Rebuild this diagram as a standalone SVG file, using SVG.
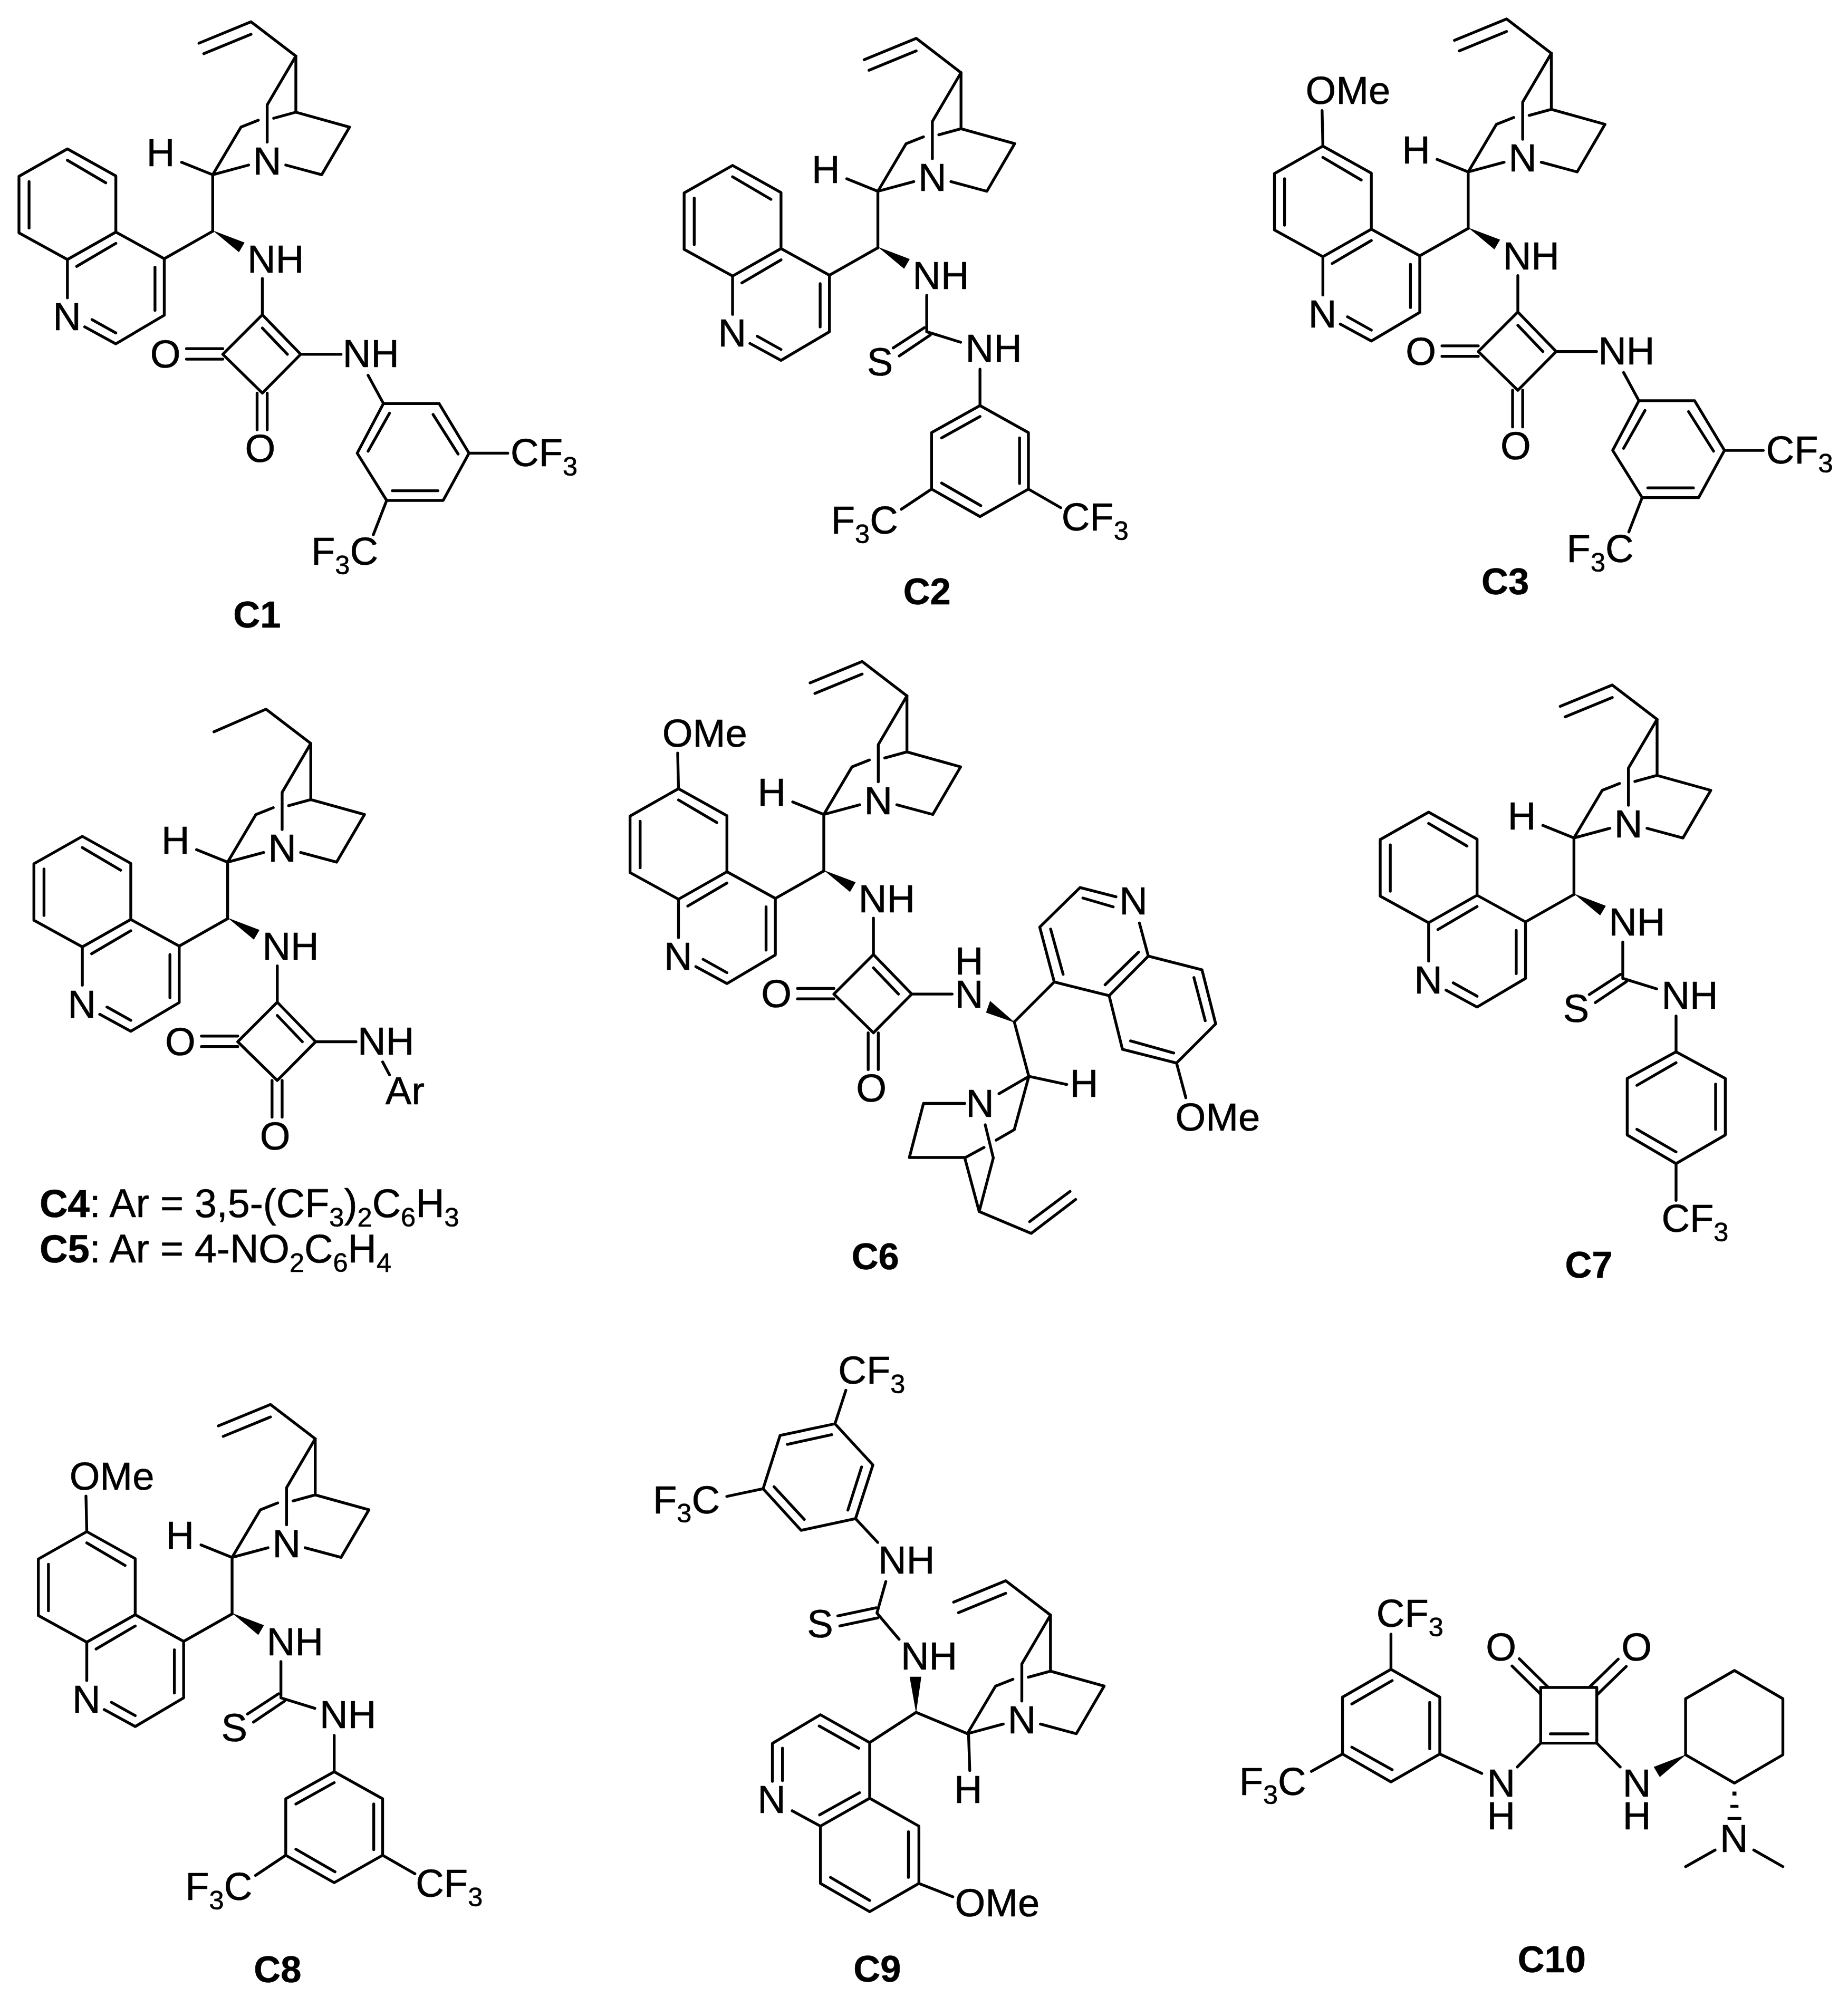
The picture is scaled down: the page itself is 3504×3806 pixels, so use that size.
<svg xmlns="http://www.w3.org/2000/svg" width="3504" height="3806" viewBox="0 0 3504 3806">
<style>
text{font-family:"Liberation Sans",Arial,sans-serif;fill:#000;stroke:#000;stroke-width:.9}
.t{font-size:97px}
.t2{font-size:98.5px}
.s{font-size:66px}
.l{font-size:92px;font-weight:bold}
.lb{font-size:97px;font-weight:bold}
.bond{fill:none;stroke:#000;stroke-width:7;stroke-linejoin:round;stroke-linecap:round}
.solid{fill:#000;stroke:none}
</style>
<defs>
<path id="vinyl" class="bond" d="M493 107L622 54L733 139M505 133L622 85"/>
<path id="ethyl" class="bond" d="M493 110L622 54L733 139"/>
<path id="cage" class="bond" d="M733 139V278M733 139L662 260V352M733 278L866 315L797 433L708 409M733 278L678 293M640 298L597 315L527 433L616 409"/>
<g id="chain"><path class="bond" d="M450 402L527 433V573"/><polygon class="solid" points="527,571 606,601 592,625"/></g>
<path id="quin" class="bond" d="M527 573L407 641V781L287 852L210 810M384 662V769M287 825L228 792M167 738V643L47 577V437L167 369L287 436V575L407 641M167 643L287 575M190 660L287 603M262 453L167 397M72 450V565"/>
<path id="ome" class="bond" d="M165 281L167 369"/>
<path id="sq" class="bond" d="M650 690V780M650 780L745 878L650 974L552 878ZM650 813L712 878M745 878H845M462 864H552M462 890H552M637 974V1065M662 974V1065"/>
<path id="ar1" class="bond" d="M912 930L950 1000H1088L1162 1123L1098 1240H958L885 1123L950 1000M1073 1027L1135 1125M1085 1216H972M912 1118L965 1024M1162 1123H1258M958 1240L925 1325"/>
<path id="thio" class="bond" d="M648 691V781L732 807M565 821L642 771M580 841L657 789M780 874V964"/>
<path id="ar2" class="bond" d="M780 964L900 1031V1171L780 1239L660 1171V1031ZM878 1044V1157M782 1212L685 1156M685 1044L780 991M900 1171L980 1217M660 1171L585 1221"/>
<path id="ar3" class="bond" d="M780 963L902 1029V1169L780 1240L659 1169V1029ZM878 1043V1155M780 990L683 1046M683 1155L780 1211M780 1240V1331"/>
</defs>
<rect width="3504" height="3806" fill="#fff"/>

<g id="C1" transform="scale(.7653)">
<use href="#vinyl"/><use href="#cage"/><use href="#chain"/><use href="#quin"/><use href="#sq"/><use href="#ar1"/>
<text class="t" x="131" y="818">N</text><text class="t" x="363" y="412">H</text><text class="t" x="627" y="432">N</text><text class="t" x="613" y="675">NH</text>
<text class="t" x="372" y="911">O</text><text class="t" x="607" y="1145">O</text><text class="t" x="849" y="910">NH</text>
<text class="t" x="1265" y="1155">CF<tspan class="s" dy="23">3</tspan></text>
<text class="t" x="771" y="1400">F<tspan class="s" dy="23">3</tspan><tspan dy="-23">C</tspan></text>
<text class="l" x="578" y="1555">C1</text>
</g>

<g id="C2" transform="translate(1200 0) scale(.7653)">
<g transform="translate(80 41)">
<use href="#vinyl"/><use href="#cage"/><use href="#chain"/><use href="#quin"/><use href="#thio"/><use href="#ar2"/>
<text class="t" x="131" y="818">N</text><text class="t" x="363" y="412">H</text><text class="t" x="627" y="432">N</text><text class="t" x="613" y="675">NH</text>
<text class="t" x="744" y="856">NH</text><text class="t" x="500" y="889">S</text>
<text class="t" x="411" y="1282">F<tspan class="s" dy="23">3</tspan><tspan dy="-23">C</tspan></text>
<text class="t" x="982" y="1274">CF<tspan class="s" dy="23">3</tspan></text>
</g>
<text class="l" x="670" y="1497">C2</text>
</g>

<g id="C3" transform="translate(2304 0) scale(.7653)">
<g transform="translate(100 -7)">
<use href="#vinyl"/><use href="#cage"/><use href="#chain"/><use href="#quin"/><use href="#ome"/><use href="#sq"/><use href="#ar1"/>
<text class="t" x="124" y="265">OMe</text>
<text class="t" x="131" y="818">N</text><text class="t" x="363" y="412">H</text><text class="t" x="627" y="432">N</text><text class="t" x="613" y="675">NH</text>
<text class="t" x="372" y="911">O</text><text class="t" x="607" y="1145">O</text><text class="t" x="849" y="910">NH</text>
<text class="t" x="1265" y="1155">CF<tspan class="s" dy="23">3</tspan></text>
<text class="t" x="771" y="1400">F<tspan class="s" dy="23">3</tspan><tspan dy="-23">C</tspan></text>
</g>
<text class="l" x="660" y="1473">C3</text>
</g>

<g id="C4-C5" transform="translate(0 1250) scale(.7653)">
<g transform="translate(37 70)">
<use href="#ethyl"/><use href="#cage"/><use href="#chain"/><use href="#quin"/><use href="#sq"/>
<path class="bond" d="M911 928L928 960"/>
<text class="t" x="131" y="818">N</text><text class="t" x="363" y="412">H</text><text class="t" x="627" y="432">N</text><text class="t" x="613" y="675">NH</text>
<text class="t" x="372" y="911">O</text><text class="t" x="607" y="1145">O</text><text class="t" x="849" y="910">NH</text>
<text class="t" x="918" y="1033">Ar</text>
</g>
<text class="t2" x="98" y="1383"><tspan class="lb">C4</tspan>: Ar = 3,5-(CF<tspan class="s" dy="23">3</tspan><tspan dy="-23">)</tspan><tspan class="s" dy="23">2</tspan><tspan dy="-23">C</tspan><tspan class="s" dy="23">6</tspan><tspan dy="-23">H</tspan><tspan class="s" dy="23">3</tspan></text>
<text class="t2" x="98" y="1495"><tspan class="lb">C5</tspan>: Ar = 4-NO<tspan class="s" dy="23">2</tspan><tspan dy="-23">C</tspan><tspan class="s" dy="23">6</tspan><tspan dy="-23">H</tspan><tspan class="s" dy="23">4</tspan></text>
</g>

<g id="C6" transform="translate(1200 1230) scale(.7653)">
<g transform="translate(-54 -22)">
<use href="#vinyl"/><use href="#cage"/><use href="#chain"/><use href="#quin"/><use href="#ome"/><use href="#sq"/>
<text class="t" x="127" y="265">OMe</text>
<text class="t" x="131" y="818">N</text><text class="t" x="363" y="412">H</text><text class="t" x="627" y="432">N</text><text class="t" x="613" y="675">NH</text>
<text class="t" x="372" y="911">O</text><text class="t" x="607" y="1145">O</text>
</g>
<polygon class="solid" points="947,927 885,873 875,902"/>
<path class="bond" d="M945 925L1044 826L1008 690L1108 592L1197 615M1066 807L1035 695M1115 618L1190 640M1255 680L1277 762L1180 860L1044 826M1253 752L1170 833M1277 762L1410 796L1444 930L1347 1027L1213 993L1180 860M1390 815L1418 922M1340 1002L1233 972M1347 1027L1370 1113"/>
<path class="bond" d="M945 925L981 1060L1075 1080M981 1060L907 1103M981 1060L945 1192L900 1218M870 1236L822 1262M822 1127H720L685 1261H822L858 1395L893 1262L873 1180M858 1395L987 1449L1097 1365M983 1420L1083 1345"/>
<text class="t"><tspan x="798" y="808">H</tspan><tspan x="798" y="890">N</tspan></text>
<text class="t" x="1205" y="658">N</text>
<text class="t" x="1344" y="1194">OMe</text>
<text class="t" x="1083" y="1111">H</text>
<text class="t" x="825" y="1160">N</text>
<text class="l" x="542" y="1538">C6</text>
</g>

<g id="C7" transform="translate(2304 1260) scale(.7653)">
<g transform="translate(362 -3)">
<use href="#vinyl"/><use href="#cage"/><use href="#chain"/><use href="#quin"/><use href="#thio"/><use href="#ar3"/>
<text class="t" x="131" y="818">N</text><text class="t" x="363" y="412">H</text><text class="t" x="627" y="432">N</text><text class="t" x="613" y="675">NH</text>
<text class="t" x="744" y="856">NH</text><text class="t" x="500" y="889">S</text>
<text class="t" x="744" y="1409">CF<tspan class="s" dy="23">3</tspan></text>
</g>
<text class="l" x="867" y="1520">C7</text>
</g>

<g id="C8" transform="translate(0 2606) scale(.7653)">
<g transform="translate(48 21)">
<use href="#vinyl"/><use href="#cage"/><use href="#chain"/><use href="#quin"/><use href="#ome"/><use href="#thio"/><use href="#ar2"/>
<text class="t" x="124" y="265">OMe</text>
<text class="t" x="131" y="818">N</text><text class="t" x="363" y="412">H</text><text class="t" x="627" y="432">N</text><text class="t" x="613" y="675">NH</text>
<text class="t" x="744" y="856">NH</text><text class="t" x="500" y="889">S</text>
<text class="t" x="411" y="1282">F<tspan class="s" dy="23">3</tspan><tspan dy="-23">C</tspan></text>
<text class="t" x="982" y="1274">CF<tspan class="s" dy="23">3</tspan></text>
</g>
<text class="l" x="629" y="1507">C8</text>
</g>

<g id="C9" transform="translate(1150 2550) scale(.7653)">
<g transform="translate(367 531)"><use href="#vinyl"/><use href="#cage"/>
<text class="t" x="627" y="432">N</text></g>
<polygon class="solid" points="767,913 751,823 780,823"/>
<path class="bond" d="M593 113L566 196L660 298L617 431L482 460L388 357L430 225L566 196M558 223L448 247M632 303L598 410M490 433L415 352M388 357L298 376M617 431L672 490M692 587L670 665L725 730M573 672L668 652M578 697L672 677"/>
<path class="bond" d="M897 965L767 911L652 986L530 917L411 988V1082M527 945L625 1000M436 1000V1080M460 1155L530 1193L652 1124V986M528 1165L627 1110M652 1124L774 1193V1335L652 1405L530 1335V1193M748 1207V1320M652 1377L555 1320M774 1335L858 1368M897 965L900 1055"/>
<text class="t" x="574" y="97">CF<tspan class="s" dy="23">3</tspan></text>
<text class="t" x="115" y="418">F<tspan class="s" dy="23">3</tspan><tspan dy="-23">C</tspan></text>
<text class="t" x="673" y="567">NH</text><text class="t" x="497" y="725">S</text><text class="t" x="729" y="805">NH</text>
<text class="t" x="861" y="1135">H</text><text class="t" x="374" y="1160">N</text>
<text class="t" x="863" y="1416">OMe</text>
<text class="l" x="612" y="1578">C9</text>
</g>

<g id="C10" transform="translate(2280 2900) scale(.7653)">
<polygon class="solid" points="1199,558 1118,589 1133,614"/>
<path class="bond" d="M467 260V347L588 416V557L467 626L347 557V416L467 347M370 433L470 375M563 429V544M370 540L470 596M347 557L270 600M588 557L692 605M780 589L838 530V392H977V530H838M862 507H955M838 409L767 339M855 390L785 321M977 411L1050 340M960 390L1030 322M977 530L1035 589M1197 559V420L1318 350L1438 420V559L1318 629L1197 559M1270 795L1197 836M1366 795L1438 836"/>
<path class="solid" d="M1313 650h10v10h-10zM1308 683h20v7h-20zM1301 713h34v7h-34z"/>
<text class="t" x="431" y="242">CF<tspan class="s" dy="23">3</tspan></text>
<text class="t" x="91" y="658">F<tspan class="s" dy="23">3</tspan><tspan dy="-23">C</tspan></text>
<text class="t"><tspan x="705" y="662">N</tspan><tspan x="705" y="743">H</tspan></text>
<text class="t"><tspan x="1041" y="662">N</tspan><tspan x="1041" y="743">H</tspan></text>
<text class="t" x="702" y="326">O</text><text class="t" x="1038" y="326">O</text>
<text class="t" x="1282" y="800">N</text>
<text class="l" x="781" y="1097">C10</text>
</g>
</svg>
